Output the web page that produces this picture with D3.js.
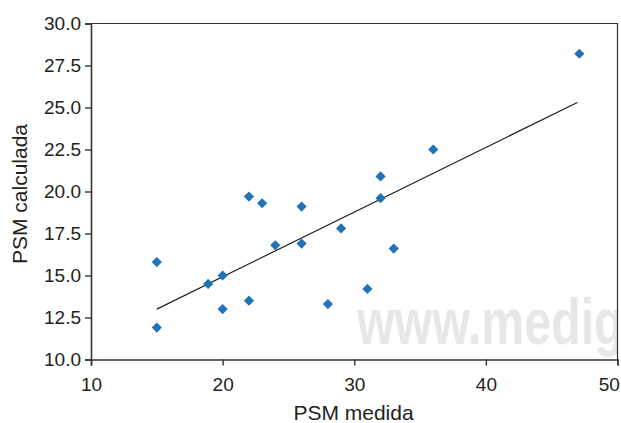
<!DOCTYPE html>
<html><head><meta charset="utf-8">
<script src="https://cdn.jsdelivr.net/npm/d3@7"></script>
<style>
html,body{margin:0;padding:0;background:#fff;}
text{font-family:"Liberation Sans",Arial,sans-serif;fill:#231f20;}
</style></head>
<body><svg id="c" width="621" height="423"></svg>
<script>
const psmMedida    = [15, 15, 18.9, 20, 20, 22, 22, 23, 26, 24, 26, 29, 28, 31, 33, 32, 32, 36, 47.1];
const psmCalculada = [15.8, 11.9, 14.5, 15.0, 13.0, 13.5, 19.7, 19.3, 19.1, 16.8, 16.9, 17.8, 13.3, 14.2, 16.6, 19.6, 20.9, 22.5, 28.2];
const trendX = [15, 46.95];
const trendY = [13.0, 25.3];
const xTicks = [10, 20, 30, 40, 50];
const yTicks = [10, 12.5, 15, 17.5, 20, 22.5, 25, 27.5, 30];

const svg = d3.select("#c");
const L = 91, R = 617.5, T = 23.5, B = 359.5;
const x = d3.scaleLinear().domain([10, 50]).range([L, R]);
const y = d3.scaleLinear().domain([10, 30]).range([B, T]);

svg.append("defs").append("clipPath").attr("id","plotclip")
  .append("rect").attr("x", L).attr("y", T).attr("width", R - L).attr("height", B - T);

// watermark
svg.append("g").attr("clip-path","url(#plotclip)")
  .append("text")
  .attr("transform", `translate(357,344) scale(0.755,1)`)
  .style("font-size","64px").style("font-weight","bold").style("fill","#e6e7e9")
  .text("www.medigraphic.com");

// frame
svg.append("path")
  .attr("d", `M${L},${T}H${R}V${B}`)
  .attr("fill","none").attr("stroke","#333").attr("stroke-width",1.2);

// axes
const xAxis = d3.axisBottom(x).tickValues(xTicks).tickFormat(d3.format("d")).tickSizeOuter(0).tickSize(6).tickPadding(12.5);
const yAxis = d3.axisLeft(y).tickValues(yTicks).tickFormat(d3.format(".1f")).tickSizeOuter(0).tickSize(6).tickPadding(4);
const gx = svg.append("g").attr("transform", `translate(0,${B})`).call(xAxis);
const gy = svg.append("g").attr("transform", `translate(${L},0)`).call(yAxis);
[gx, gy].forEach(g => {
  g.select(".domain").attr("stroke","#333").attr("stroke-width",1.6);
  g.selectAll(".tick line").attr("stroke","#333").attr("stroke-width",1.4);
  g.selectAll("text").style("font-size","19px").style("font-family","Liberation Sans, Arial, sans-serif").attr("fill","#231f20");
});
// keep last x label inside the picture
gx.selectAll(".tick").filter(d => d === xTicks[xTicks.length - 1]).select("text")
  .attr("text-anchor","end").attr("dx", "0.1em");

// trend line
svg.append("line")
  .attr("x1", x(trendX[0])).attr("y1", y(trendY[0]))
  .attr("x2", x(trendX[1])).attr("y2", y(trendY[1]))
  .attr("stroke","#231f20").attr("stroke-width",1.2);

// points
const sym = d3.symbol().type(d3.symbolSquare).size(52);
svg.append("g").selectAll("path").data(psmMedida.map((v,i)=>[v, psmCalculada[i]]))
  .join("path")
  .attr("d", sym)
  .attr("transform", d => `translate(${x(d[0])},${y(d[1])}) rotate(45)`)
  .attr("fill","#2271b9");

// axis labels
svg.append("text").attr("x", 353.5).attr("y", 419.5).attr("text-anchor","middle")
  .style("font-size","21px").text("PSM medida");
svg.append("text").attr("transform","translate(27,194) rotate(-90)").attr("text-anchor","middle")
  .style("font-size","21px").text("PSM calculada");
</script></body></html>
